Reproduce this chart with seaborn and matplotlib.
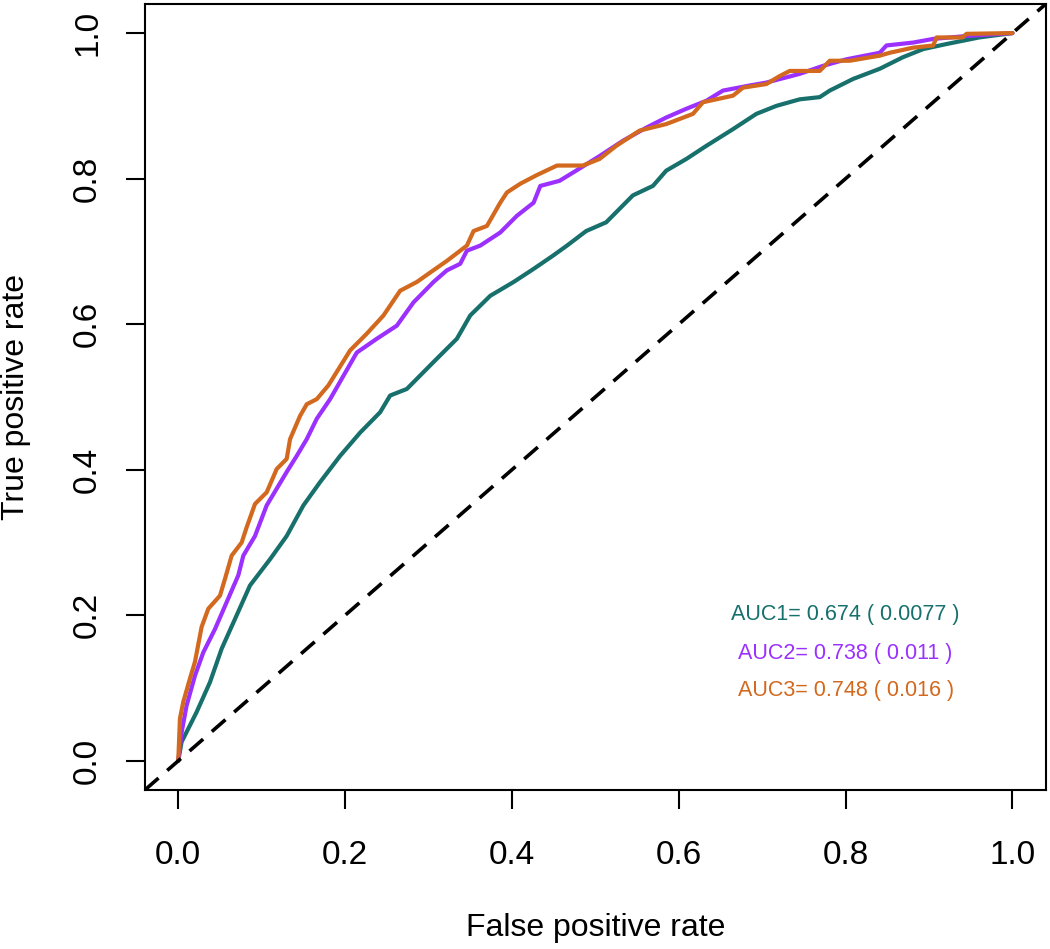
import pandas as pd
import matplotlib
matplotlib.use("Agg")
import matplotlib.pyplot as plt
import seaborn as sns

# ROC points (false positive rate, true positive rate)
fpr1 = [0.000, 0.004, 0.022, 0.038, 0.052, 0.070, 0.086, 0.110, 0.130, 0.150, 0.170, 0.194,
        0.218, 0.242, 0.254, 0.274, 0.306, 0.334, 0.350, 0.374, 0.402, 0.426, 0.449, 0.466,
        0.489, 0.513, 0.545, 0.569, 0.585, 0.609, 0.633, 0.665, 0.693, 0.717, 0.745, 0.769,
        0.781, 0.809, 0.841, 0.869, 0.893, 0.921, 0.960, 1.000]
tpr1 = [0.000, 0.026, 0.067, 0.108, 0.154, 0.200, 0.241, 0.277, 0.309, 0.351, 0.383, 0.419,
        0.451, 0.479, 0.502, 0.511, 0.548, 0.580, 0.612, 0.639, 0.658, 0.676, 0.694, 0.708,
        0.728, 0.740, 0.777, 0.790, 0.811, 0.827, 0.845, 0.868, 0.889, 0.900, 0.909, 0.912,
        0.921, 0.937, 0.951, 0.967, 0.978, 0.985, 0.994, 1.000]

fpr2 = [0.000, 0.004, 0.010, 0.020, 0.030, 0.044, 0.058, 0.072, 0.078, 0.092, 0.106, 0.118,
        0.130, 0.142, 0.154, 0.166, 0.182, 0.198, 0.214, 0.238, 0.262, 0.282, 0.306, 0.322,
        0.338, 0.346, 0.362, 0.386, 0.406, 0.426, 0.434, 0.457, 0.477, 0.505, 0.533, 0.561,
        0.585, 0.609, 0.633, 0.653, 0.685, 0.705, 0.745, 0.773, 0.801, 0.841, 0.849, 0.881,
        0.905, 0.945, 1.000]
tpr2 = [0.000, 0.039, 0.076, 0.117, 0.149, 0.181, 0.218, 0.255, 0.282, 0.309, 0.351, 0.374,
        0.397, 0.419, 0.442, 0.470, 0.497, 0.529, 0.561, 0.580, 0.598, 0.630, 0.658, 0.674,
        0.683, 0.701, 0.708, 0.726, 0.749, 0.767, 0.790, 0.797, 0.811, 0.831, 0.852, 0.870,
        0.884, 0.896, 0.907, 0.921, 0.928, 0.932, 0.944, 0.955, 0.964, 0.973, 0.983, 0.987,
        0.992, 0.996, 1.000]

fpr3 = [0.000, 0.002, 0.006, 0.014, 0.020, 0.028, 0.036, 0.050, 0.056, 0.064, 0.076, 0.082,
        0.092, 0.106, 0.118, 0.130, 0.134, 0.146, 0.154, 0.166, 0.180, 0.206, 0.226, 0.246,
        0.266, 0.286, 0.302, 0.322, 0.346, 0.354, 0.370, 0.386, 0.394, 0.410, 0.430, 0.454,
        0.485, 0.505, 0.525, 0.553, 0.585, 0.617, 0.629, 0.665, 0.677, 0.705, 0.721, 0.733,
        0.769, 0.781, 0.805, 0.841, 0.853, 0.881, 0.905, 0.909, 0.940, 0.945, 1.000]
tpr3 = [0.000, 0.058, 0.081, 0.113, 0.136, 0.184, 0.209, 0.227, 0.250, 0.282, 0.300, 0.321,
        0.353, 0.369, 0.401, 0.415, 0.442, 0.474, 0.490, 0.497, 0.516, 0.564, 0.587, 0.612,
        0.646, 0.658, 0.671, 0.687, 0.708, 0.728, 0.735, 0.767, 0.781, 0.793, 0.805, 0.818,
        0.818, 0.827, 0.845, 0.866, 0.875, 0.889, 0.905, 0.914, 0.925, 0.930, 0.941, 0.948,
        0.948, 0.962, 0.962, 0.969, 0.973, 0.980, 0.983, 0.994, 0.994, 0.999, 1.000]

labels = ["AUC1= 0.674 ( 0.0077 )", "AUC2= 0.738 ( 0.011 )", "AUC3= 0.748 ( 0.016 )"]
colors = ["#17706B", "#9B30FF", "#D2691E"]
ticks = [0.0, 0.2, 0.4, 0.6, 0.8, 1.0]

sns.set_style("ticks")
plt.rcParams['font.family'] = ['Liberation Sans', 'DejaVu Sans']
plt.rcParams['text.color'] = 'black'
plt.rcParams['axes.labelcolor'] = 'black'

fig = plt.figure(figsize=(10.5, 9.49), dpi=100)
ax = fig.add_axes([0.138, 0.1676, 0.858, 0.8282])

curves = [(fpr1, tpr1), (fpr2, tpr2), (fpr3, tpr3)]
for (fx, ty), col in zip(curves, colors):
    df = pd.DataFrame({"fpr": fx, "tpr": ty})
    sns.lineplot(data=df, x="fpr", y="tpr", sort=False, estimator=None,
                 color=col, linewidth=3, ax=ax)

ax.axline((0, 0), (1, 1), color="black", linestyle=(0, (5, 3.2)), linewidth=2.6)

ax.set_xlim(-0.04, 1.04)
ax.set_ylim(-0.04, 1.04)
ax.set_xticks(ticks)
ax.set_yticks(ticks)
ax.set_xticklabels([f"{t:.1f}" for t in ticks], fontsize=24)
ax.set_yticklabels([f"{t:.1f}" for t in ticks], fontsize=24, rotation=90, va="center")
ax.tick_params(axis="both", length=14, width=1.5, direction="out", colors="black")
ax.tick_params(axis="x", pad=22)
ax.tick_params(axis="y", pad=16)
for s in ax.spines.values():
    s.set_linewidth(1.5)
    s.set_color("black")

ax.set_xlabel("False positive rate", fontsize=23, labelpad=30)
ax.set_ylabel("True positive rate", fontsize=23, labelpad=30)

ys = [0.201, 0.148, 0.096]
for lab, col, yy in zip(labels, colors, ys):
    ax.text(0.80, yy, lab, color=col, fontsize=15.5, ha="center", va="center")

fig.savefig("out.png", dpi=100)
